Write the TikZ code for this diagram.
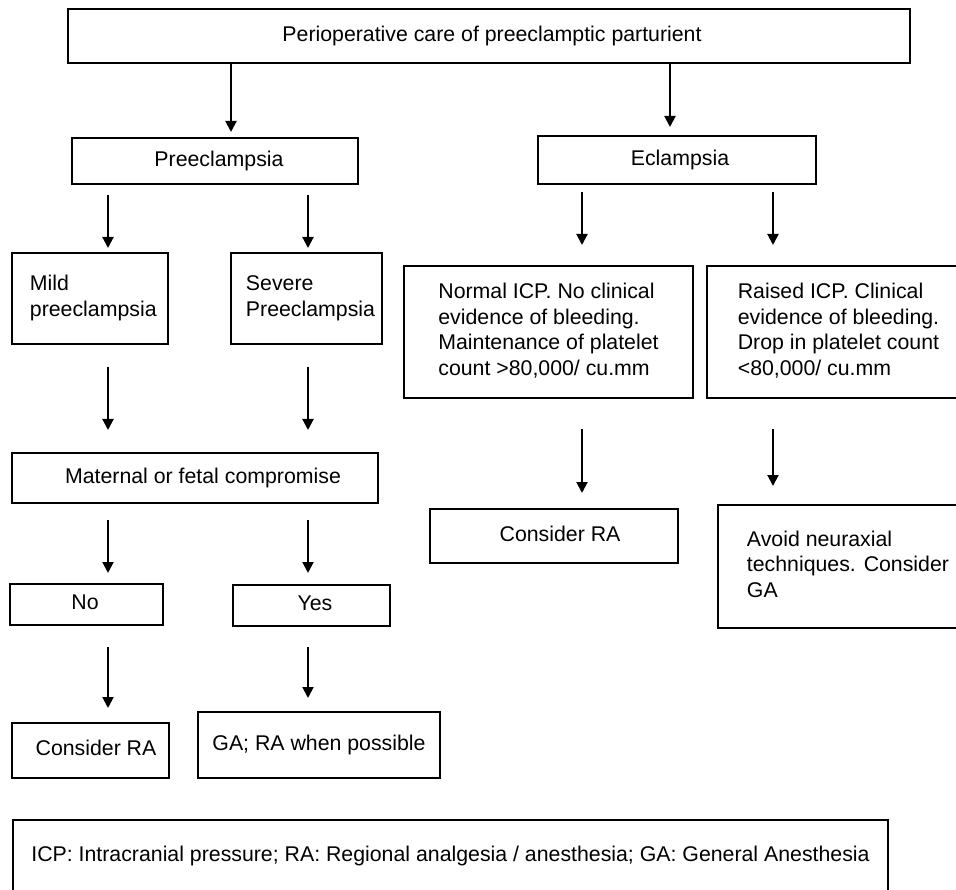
\documentclass[tikz,border=0pt]{standalone}
\usepackage{fontspec}
\setmainfont{Liberation Sans}
\usetikzlibrary{arrows.meta}
\newcommand\tb[2]{\hspace*{#1}\begin{tabular}{@{}l@{}}#2\end{tabular}}
\begin{document}
\begin{tikzpicture}[x=1pt,y=-1pt,
  box/.style={draw=black, line width=1.7pt, inner sep=0pt, outer sep=0pt,
    font=\fontsize{21.3}{25.6}\selectfont},
  arr/.style 2 args={draw=black, line width=2pt, -{Triangle[length=11pt,width=11pt]},
    shorten <=#1, shorten >=#2},
]
\useasboundingbox (0,0) rectangle (956,890);
\fill[white] (0,0) rectangle (956,890);

% boxes
\node[box, minimum width=842pt, minimum height=54pt] (top) at (489,36)
  {\tb{6pt}{Perioperative care of preeclamptic parturient}};
\node[box, minimum width=286pt, minimum height=46pt] (pre) at (215,161)
  {\tb{8pt}{Preeclampsia}};
\node[box, minimum width=278pt, minimum height=48pt] (ecl) at (677,160)
  {\tb{6pt}{Eclampsia}};
\node[box, minimum width=156pt, minimum height=91pt] (mild) at (90,298.5)
  {\tb{6.6pt}{Mild\\preeclampsia}};
\node[box, minimum width=151pt, minimum height=91pt] (severe) at (306.5,298.5)
  {\tb{8pt}{Severe\\Preeclampsia}};
\node[box, minimum width=289pt, minimum height=132pt] (normal) at (548.5,332)
  {\tb{0pt}{Normal ICP. No clinical\\evidence of bleeding.\\Maintenance of platelet\\count >80,000/ cu.mm}};
\node[box, minimum width=251pt, minimum height=132pt] (raised) at (832.5,332)
  {\tb{12pt}{Raised ICP. Clinical\\evidence of bleeding.\\Drop in platelet count\\<80,000/ cu.mm}};
\node[box, minimum width=366pt, minimum height=50pt] (maternal) at (195,478)
  {\tb{16pt}{Maternal or fetal compromise}};
\node[box, minimum width=153pt, minimum height=41pt] (no) at (86.5,604.5)
  {\tb{-3pt}{No}};
\node[box, minimum width=157pt, minimum height=41pt] (yes) at (311.5,605.5)
  {\tb{7pt}{Yes}};
\node[box, minimum width=157pt, minimum height=55pt] (craL) at (90.5,750.5)
  {\tb{11pt}{Consider RA}};
\node[box, minimum width=242pt, minimum height=66pt] (ga) at (319,745)
  {\tb{0pt}{GA; RA when possible}};
\node[box, minimum width=248pt, minimum height=54pt] (craR) at (554,536)
  {\tb{12pt}{Consider RA}};
\node[box, minimum width=240pt, minimum height=123pt] (avoid) at (838,566.5)
  {\tb{20pt}{Avoid neuraxial\\techniques. Consider\\GA}};
\node[box, minimum width=875pt, minimum height=72pt] (legend) at (450.5,856)
  {\tb{0pt}{ICP: Intracranial pressure; RA: Regional analgesia / anesthesia; GA: General Anesthesia}};

% arrow columns
\coordinate (xA) at (231,0);
\coordinate (xB) at (670,0);
\coordinate (xL) at (108,0);
\coordinate (xR) at (308,0);
\coordinate (xEL) at (582,0);
\coordinate (xER) at (773,0);

% connectors
\draw[arr={0pt}{6pt}] (top.south -| xA) -- (pre.north -| xA);
\draw[arr={0pt}{9pt}] (top.south -| xB) -- (ecl.north -| xB);
\draw[arr={11pt}{5pt}] (pre.south -| xL) -- (mild.north -| xL);
\draw[arr={11pt}{5pt}] (pre.south -| xR) -- (severe.north -| xR);
\draw[arr={8pt}{21pt}] (ecl.south -| xEL) -- (normal.north -| xEL);
\draw[arr={8pt}{21pt}] (ecl.south -| xER) -- (raised.north -| xER);
\draw[arr={23pt}{23pt}] (mild.south -| xL) -- (maternal.north -| xL);
\draw[arr={23pt}{23pt}] (severe.south -| xR) -- (maternal.north -| xR);
\draw[arr={17pt}{11pt}] (maternal.south -| xL) -- (no.north -| xL);
\draw[arr={17pt}{12pt}] (maternal.south -| xR) -- (yes.north -| xR);
\draw[arr={22pt}{15pt}] (no.south -| xL) -- (craL.north -| xL);
\draw[arr={21pt}{14pt}] (yes.south -| xR) -- (ga.north -| xR);
\draw[arr={31pt}{16pt}] (normal.south -| xEL) -- (craR.north -| xEL);
\draw[arr={31pt}{19pt}] (raised.south -| xER) -- (avoid.north -| xER);
\end{tikzpicture}
\end{document}
